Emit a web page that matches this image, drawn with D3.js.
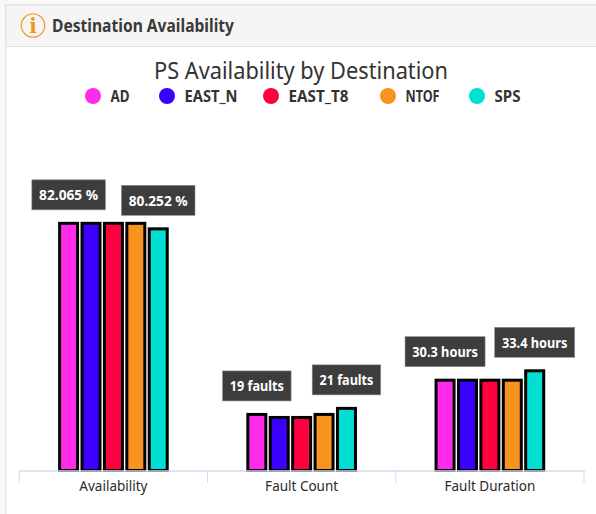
<!DOCTYPE html>
<html><head><meta charset="utf-8">
<script src="https://cdn.jsdelivr.net/npm/d3@7/dist/d3.min.js"></script>
<style>html,body{margin:0;padding:0;background:#fff}svg{display:block}</style>
</head><body><div id="c"></div>
<script>
const categories = ["Availability","Fault Count","Fault Duration"];
const destinations = ["AD","EAST_N","EAST_T8","NTOF","SPS"];
const colors = ["#ff2bea","#3b00ff","#ff0040","#f7931e","#00dfd2"];
const adValues = [82.065,19,30.3];
const eastNValues = [82.065,18,30.3];
const eastT8Values = [82.065,18,30.3];
const ntofValues = [82.065,19,30.3];
const spsValues = [80.252,21,33.4];
const series = [adValues,eastNValues,eastT8Values,ntofValues,spsValues];
const labelTexts = [["82.065 %","80.252 %"],["19 faults","21 faults"],["30.3 hours","33.4 hours"]];
const font = '"Noto Sans", sans-serif';
const W=596,H=514;
const svg=d3.select("#c").append("svg").attr("width",W).attr("height",H).attr("font-family",font);
svg.append("rect").attr("x",0).attr("y",0).attr("width",W).attr("height",H).attr("fill","#fff");
svg.append("rect").attr("x",0).attr("y",0).attr("width",5).attr("height",H).attr("fill","#f8f8f8");
svg.append("rect").attr("x",0).attr("y",0).attr("width",W).attr("height",4).attr("fill","#f8f8f8");
svg.append("rect").attr("x",5).attr("y",4).attr("width",W-5).attr("height",42).attr("fill","#f5f5f5");
svg.append("rect").attr("x",5).attr("y",4).attr("width",W-5).attr("height",1.5).attr("fill","#e3e3e3");
svg.append("rect").attr("x",5).attr("y",46).attr("width",W-5).attr("height",1).attr("fill","#e3e3e3");
svg.append("rect").attr("x",5).attr("y",4).attr("width",1.5).attr("height",H).attr("fill","#e3e3e3");
// header icon
svg.append("circle").attr("cx",33).attr("cy",25.5).attr("r",11.7).attr("fill","none").attr("stroke","#f0a030").attr("stroke-width",1.3);
svg.append("text").attr("x",33).attr("y",32.5).attr("text-anchor","middle").attr("font-size",20).attr("font-weight",700).attr("fill","#ef9a1e").attr("font-family","'DejaVu Serif',serif").text("i");
svg.append("text").attr("x",52).attr("y",32).attr("font-size",18).attr("font-weight",700).attr("fill","#3a3a3a").attr("textLength",182).attr("lengthAdjust","spacingAndGlyphs").text("Destination Availability");
svg.append("text").attr("x",301).attr("y",79).attr("text-anchor","middle").attr("font-size",23).attr("fill","#333").attr("textLength",294).attr("lengthAdjust","spacingAndGlyphs").text("PS Availability by Destination");
// legend
const legendX=[93,167,271,388,477], legendLen=[19,53,60,34,26];
const lg=svg.append("g").selectAll("g").data(destinations).join("g").attr("transform",(d,i)=>`translate(${legendX[i]},96)`);
lg.append("circle").attr("r",8).attr("fill",(d,i)=>colors[i]);
lg.append("text").attr("x",17.5).attr("y",6).attr("font-size",15.5).attr("font-weight",700).attr("fill","#333").attr("textLength",(d,i)=>legendLen[i]).attr("lengthAdjust","spacingAndGlyphs").text(d=>d);
// scales
const x0=d3.scaleBand().domain(categories).range([19.3,584]);
const x1=d3.scaleBand().domain(destinations).range([0,x0.bandwidth()]).paddingInner(0).paddingOuter(1.7);
const y=d3.scaleLinear().domain([0,120]).range([470.5,106.9]);
const barW=18;
// bars
const groups=svg.append("g").selectAll("g").data(categories).join("g").attr("transform",d=>`translate(${x0(d)},0)`);
groups.each(function(cat,ci){
  const g=d3.select(this);
  g.selectAll("rect").data(destinations).join("rect")
   .attr("x",d=>x1(d)+(x1.bandwidth()-barW)/2).attr("width",barW)
   .attr("y",(d,i)=>y(series[i][ci])+1.5).attr("height",(d,i)=>y(0)-y(series[i][ci])-1.5)
   .attr("fill",(d,i)=>colors[i]).attr("stroke","#000").attr("stroke-width",3);
  [0,4].forEach((si,k)=>{
    const cx=x1(destinations[si])+x1.bandwidth()/2, by=y(series[si][ci])-12;
    const t=labelTexts[ci][k], bw=[73.5,68.5,80][ci];
    g.append("rect").attr("x",cx-bw/2).attr("y",by-30).attr("width",bw).attr("height",30).attr("fill","#3d3d3d").attr("stroke","#8a8a8a").attr("stroke-width",0.6);
    g.append("text").attr("x",cx).attr("y",by-9.5).attr("text-anchor","middle").attr("font-size",15).attr("font-weight",700).attr("fill","#fff").attr("textLength",bw-14.5).attr("lengthAdjust","spacingAndGlyphs").text(t);
  });
});
// axis
const ax=d3.axisBottom(x0).tickSizeOuter(0).tickSize(0);
const axG=svg.append("g").attr("transform","translate(0,470.5)").call(ax);
axG.select(".domain").attr("stroke","#d5d9ec").attr("stroke-width",1.4);
axG.selectAll("text").attr("y",20.5).attr("dy",0).attr("font-size",13.5).attr("font-family",font).attr("fill","#2a2a2a");
svg.append("g").selectAll("line").data([0,1,2,3]).join("line")
  .attr("x1",i=>i<3?x0(categories[i]):x0.range()[1]).attr("x2",i=>i<3?x0(categories[i]):x0.range()[1])
  .attr("y1",470).attr("y2",483).attr("stroke","#d5d9ec").attr("stroke-width",1);
</script></body></html>
